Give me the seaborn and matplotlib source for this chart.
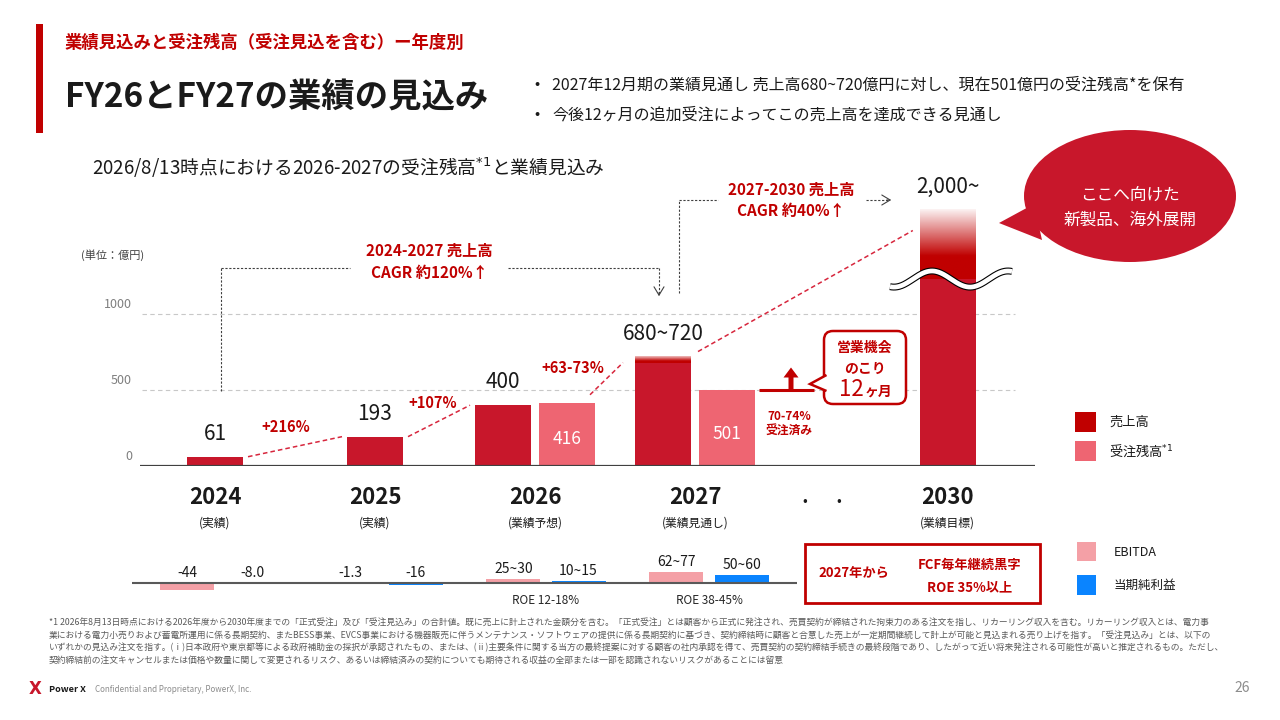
import numpy as np
import pandas as pd
import matplotlib
matplotlib.use("Agg")
import matplotlib.pyplot as plt
import seaborn as sns
from matplotlib.colors import to_rgb
from matplotlib.patches import Rectangle, Ellipse, Polygon, FancyBboxPatch, FancyArrow

# ---- chart values ----
years = ["2024", "2025", "2026", "2027", "2030"]
year_notes = ["(実績)", "(実績)", "(業績予想)", "(業績見通し)", "(業績目標)"]
sales_low = [61, 193, 400, 680, 2000]
sales_high = [61, 193, 400, 720, 2000]
sales_labels = ["61", "193", "400", "680~720", "2,000~"]
backlog = [None, None, 416, 501, None]
growth_labels = ["+216%", "+107%", "+63-73%"]
yticks = [0, 500, 1000]

pl_years = ["2024", "2025", "2026", "2027"]
ebitda_low = [-44, -1.3, 25, 62]
ebitda_high = [-44, -1.3, 30, 77]
ebitda_labels = ["-44", "-1.3", "25~30", "62~77"]
net_low = [-8.0, -16, 10, 50]
net_high = [-8.0, -16, 15, 60]
net_labels = ["-8.0", "-16", "10~15", "50~60"]
roe_labels = ["", "", "ROE 12-18%", "ROE 38-45%"]

footnote_lines = [
    "*1 2026年8月13日時点における2026年度から2030年度までの「正式受注」及び「受注見込み」の合計値。既に売上に計上された金額分を含む。「正式受注」とは顧客から正式に発注され、売買契約が締結された拘束力のある注文を指し、リカーリング収入を含む。リカーリング収入とは、電力事",
    "業における電力小売りおよび蓄電所運用に係る長期契約、またBESS事業、EVCS事業における機器販売に伴うメンテナンス・ソフトウェアの提供に係る長期契約に基づき、契約締結時に顧客と合意した売上が一定期間継続して計上が可能と見込まれる売り上げを指す。「受注見込み」とは、以下の",
    "いずれかの見込み注文を指す。(ⅰ)日本政府や東京都等による政府補助金の採択が承認されたもの、または、(ⅱ)主要条件に関する当方の最終提案に対する顧客の社内承認を得て、売買契約の契約締結手続きの最終段階であり、したがって近い将来発注される可能性が高いと推定されるもの。ただし、",
    "契約締結前の注文キャンセルまたは価格や数量に関して変更されるリスク、あるいは締結済みの契約についても期待される収益の全部または一部を認識されないリスクがあることには留意",
]

sns.set_theme(style="white")
plt.rcParams["font.family"] = ["Noto Sans CJK JP", "DejaVu Sans"]
plt.rcParams["axes.unicode_minus"] = False

W, H = 1280, 720
RED = "#C8172B"
DARK_RED = "#C00000"
PINK = "#EE6572"
LIGHT_PINK = "#F4A0A6"
BLUE = "#0A84FF"
INK = "#1A1A1A"

fig = plt.figure(figsize=(W / 100, H / 100), dpi=100)
fig.patch.set_facecolor("white")


def box(l, t, r, b):
    return [l / W, 1 - b / H, (r - l) / W, (b - t) / H]


# ---------------- main chart ----------------
PPU = 0.152            # pixels per 億円
ax = fig.add_axes(box(140, 100, 1035, 466))


def x_of(px):
    return (px - 215) / 160


slot = [0, 1, 2, 3, 4.58]
bar_w = 0.35
pair = 0.2
break_at = 1230        # 2030 bar is cut by a wavy break
cap_top = 1684

rows = []
sales_x = []
for i, yr in enumerate(years):
    sx = slot[i] - pair if backlog[i] is not None else slot[i]
    sales_x.append(sx)
    rows.append({"pos": sx, "value": min(sales_low[i], break_at), "series": "売上高"})
    if backlog[i] is not None:
        rows.append({"pos": slot[i] + pair, "value": backlog[i], "series": "受注残高"})
bars = pd.DataFrame(rows)

sns.barplot(data=bars, x="pos", y="value", hue="series", hue_order=["売上高", "受注残高"],
            palette={"売上高": RED, "受注残高": PINK}, native_scale=True, dodge=False,
            width=bar_w / (2 * pair), saturation=1, errorbar=None, legend=False,
            linewidth=0, ax=ax)


def fade_cap(xc, y0, y1, stops, alphas):
    ys = np.linspace(y0, y1, 256)
    img = np.ones((256, 1, 4))
    img[:, 0, :3] = to_rgb(DARK_RED)
    img[:, 0, 3] = np.interp(ys, stops, alphas)
    ax.imshow(img, extent=(xc - bar_w / 2, xc + bar_w / 2, y0, y1), origin="lower",
              aspect="auto", interpolation="bilinear", zorder=3)


# 2027: range 680~720 drawn as a soft cap
lo, hi = sales_low[3], sales_high[3]
fade_cap(sales_x[3], lo, hi, [lo, lo + 0.3 * (hi - lo), hi], [1, 1, 0.25])
# 2030: faded top above the break
fade_cap(sales_x[4], break_at, cap_top, [break_at, break_at + 150, cap_top], [1, 1, 0.05])

wx = np.linspace(x_of(890), x_of(1012), 200)
wy = break_at + 53 * np.cos(2 * np.pi * (wx - x_of(932)) / (76 / 160))
ax.plot(wx, wy, color="black", lw=5.0, solid_capstyle="butt", zorder=5)
ax.plot(wx, wy, color="white", lw=3.4, solid_capstyle="butt", zorder=6)

ax.set_xlim(x_of(140), x_of(1035))
ax.set_ylim(0, (466 - 100) / PPU)
ax.set(xlabel="", ylabel="", xticks=[], yticks=[])
for s in ax.spines.values():
    s.set_visible(False)
ax.axhline(0, color="#404040", lw=1.6, zorder=4)
ax.hlines(yticks[1:], x_of(142), x_of(1015), colors="#C8C8C8",
          linestyles=(0, (4, 3)), lw=0.8, zorder=0)
for v in yticks:
    ax.annotate(str(v), xy=(0, v), xycoords=("axes fraction", "data"), xytext=(-8, 9),
                textcoords="offset pixels", ha="right", va="center", fontsize=9,
                color="#7F7F7F")

for i in range(len(years)):
    top = min(sales_high[i], cap_top)
    ax.annotate(sales_labels[i], xy=(sales_x[i], top), xytext=(0, 23),
                textcoords="offset pixels", ha="center", va="center", fontsize=15,
                color=INK)
    ax.annotate(years[i], xy=(slot[i], 0), xytext=(0, -31), textcoords="offset pixels",
                ha="center", va="center", fontsize=16, fontweight="bold", color=INK)
    ax.annotate(year_notes[i], xy=(slot[i], 0), xytext=(0, -57), textcoords="offset pixels",
                ha="center", va="center", fontsize=8.5, color=INK)
    if backlog[i] is not None:
        ax.text(slot[i] + pair, backlog[i] * 0.42, str(backlog[i]), ha="center",
                va="center", fontsize=12.5, color="white", zorder=5)

# growth lines between bar tops
half = bar_w / 2
g = 5 / 160
dash = dict(color="#D7263D", lw=1.1, ls=(0, (3, 2)), zorder=2)
ax.plot([sales_x[0] + half + g, sales_x[1] - half - g], [sales_low[0], sales_low[1]], **dash)
ax.plot([sales_x[1] + half + g, sales_x[2] - half - g], [sales_low[1], sales_low[2]], **dash)
ax.plot([slot[2] + pair + half - g, sales_x[3] - half - 2.4 * g],
        [backlog[2] + 8 / PPU, sales_low[3]], **dash)
ax.plot([sales_x[3] + half + 1.4 * g, sales_x[4] - half - 1.4 * g],
        [sales_high[3] + 5 / PPU, 0.92 * cap_top], **dash)

# remaining-order marker at the 2027 backlog level
ax.plot([x_of(759), x_of(814)], [backlog[3], backlog[3]], color=DARK_RED, lw=2.2,
        solid_capstyle="butt", zorder=4)

# ---------------- P/L mini chart ----------------
ax2 = fig.add_axes(box(132, 540, 797, 612))
pl = pd.DataFrame({
    "year": pl_years * 2,
    "metric": ["EBITDA"] * 4 + ["当期純利益"] * 4,
    "value": [(a + b) / 2 for a, b in zip(ebitda_low, ebitda_high)]
             + [(a + b) / 2 for a, b in zip(net_low, net_high)],
})
sns.barplot(data=pl, x="year", y="value", hue="metric", hue_order=["EBITDA", "当期純利益"],
            palette={"EBITDA": LIGHT_PINK, "当期純利益": BLUE}, width=0.8, gap=0.17,
            saturation=1, errorbar=None, legend=False, linewidth=0, ax=ax2)
ax2.set_xlim((132 - 220) / 163, (797 - 220) / 163)
ax2.set_ylim(-(612 - 583) / PPU, (583 - 540) / PPU)
ax2.set(xlabel="", ylabel="", xticks=[], yticks=[])
for s in ax2.spines.values():
    s.set_visible(False)
ax2.axhline(0, color="#595959", lw=1.5, zorder=4)
for i in range(len(pl_years)):
    for dx, labels, lo_v, hi_v in [(-0.2, ebitda_labels, ebitda_low, ebitda_high),
                                   (0.2, net_labels, net_low, net_high)]:
        top = max((lo_v[i] + hi_v[i]) / 2, 0)
        ax2.annotate(labels[i], xy=(i + dx, top), xytext=(0, 3), textcoords="offset pixels",
                     ha="center", va="bottom", fontsize=10, color=INK)
    if roe_labels[i]:
        ax2.annotate(roe_labels[i], xy=(i, 0), xytext=(0, -17), textcoords="offset pixels",
                     ha="center", va="center", fontsize=8.5, color="#262626")

# ---------------- overlay in pixel coordinates ----------------
ov = fig.add_axes([0, 0, 1, 1], zorder=10)
ov.set_xlim(0, W)
ov.set_ylim(H, 0)
ov.axis("off")


def t(x, y, s, **kw):
    kw.setdefault("ha", "center")
    kw.setdefault("va", "center")
    kw.setdefault("color", INK)
    ov.text(x, y, s, **kw)


# header
ov.add_patch(Rectangle((36, 24), 7, 109, fc=DARK_RED, ec="none"))
t(65, 43, "業績見込みと受注残高（受注見込を含む）ー年度別", ha="left", fontsize=12.5,
  fontweight="bold", color=DARK_RED)
t(65, 97, "FY26とFY27の業績の見込み", ha="left", fontsize=24, fontweight="bold")
t(537, 85, "•", fontsize=11)
t(537, 115, "•", fontsize=11)
t(552, 85, "2027年12月期の業績見通し 売上高680~720億円に対し、現在501億円の受注残高*を保有",
  ha="left", fontsize=11.5)
t(552, 115, "今後12ヶ月の追加受注によってこの売上高を達成できる見通し", ha="left", fontsize=11.5)
t(92, 168, "2026/8/13時点における2026-2027の受注残高$^{*1}$と業績見込み", ha="left",
  fontsize=13.5)
t(81, 255, "(単位：億円)", ha="left", fontsize=8, color="#404040")

# CAGR brackets
br = dict(color="#404040", lw=0.8, ls=(0, (2, 1.5)))
ov.plot([221, 221], [391, 268], **br)
ov.plot([221, 350], [268, 268], **br)
ov.plot([508, 659], [268, 268], **br)
ov.plot([659, 659], [268, 294], **br)
ov.annotate("", xy=(659, 299), xytext=(659, 290),
            arrowprops=dict(arrowstyle="->,head_length=0.5,head_width=0.3", color="#404040", lw=0.8))
t(429, 251, "2024-2027 売上高", fontsize=11, fontweight="bold", color=DARK_RED)
t(429, 273, "CAGR 約120%↑", fontsize=11, fontweight="bold", color=DARK_RED)

ov.plot([679, 679], [293, 200], **br)
ov.plot([679, 718], [200, 200], **br)
ov.plot([866, 888], [200, 200], **br)
ov.annotate("", xy=(894, 200), xytext=(884, 200),
            arrowprops=dict(arrowstyle="->,head_length=0.5,head_width=0.3", color="#404040", lw=0.8))
t(791, 190, "2027-2030 売上高", fontsize=11, fontweight="bold", color=DARK_RED)
t(791, 211, "CAGR 約40%↑", fontsize=11, fontweight="bold", color=DARK_RED)

# growth labels
for (gx, gy), s in zip([(286, 427), (433, 403), (573, 368)], growth_labels):
    t(gx, gy, s, fontsize=10.5, fontweight="bold", color=DARK_RED)

# 2027 remaining opportunity
ov.add_patch(FancyArrow(791, 389.5, 0, -22, width=5, head_width=15, head_length=10,
                        length_includes_head=True, fc=DARK_RED, ec="none"))
t(789, 417, "70-74%", fontsize=8.5, fontweight="bold", color=DARK_RED)
t(789, 431, "受注済み", fontsize=8.5, fontweight="bold", color=DARK_RED)
ov.add_patch(FancyBboxPatch((824, 331), 82, 73, boxstyle="round,pad=0,rounding_size=9",
                            ec=DARK_RED, fc="white", lw=1.8, zorder=2))
ov.add_patch(Polygon([(826.5, 375), (810, 384), (826.5, 391)], closed=False, fc="white",
                     ec=DARK_RED, lw=1.8, zorder=3))
t(865, 348, "営業機会", fontsize=10, fontweight="bold", color=DARK_RED, zorder=4)
t(865, 369, "のこり", fontsize=10, fontweight="bold", color=DARK_RED, zorder=4)
t(851, 390, "12", fontsize=16, color=DARK_RED, zorder=4)
t(879, 392, "ヶ月", fontsize=10, fontweight="bold", color=DARK_RED, zorder=4)

# speech bubble
ov.add_patch(Ellipse((1130, 196), 212, 132, fc=RED, ec="none"))
ov.add_patch(Polygon([(999, 223), (1034, 204), (1042, 240)], fc=RED, ec="none"))
t(1130, 195, "ここへ向けた", fontsize=12, color="white")
t(1130, 220, "新製品、海外展開", fontsize=12, color="white")

# ellipsis between 2027 and 2030
t(805, 501, "•", fontsize=10)
t(839, 501, "•", fontsize=10)

# main legend
ov.add_patch(Rectangle((1075, 412), 21, 20, fc=DARK_RED, ec="none"))
ov.add_patch(Rectangle((1075, 441), 21, 20, fc=PINK, ec="none"))
t(1109, 422, "売上高", ha="left", fontsize=9.5)
t(1109, 451, "受注残高$^{*1}$", ha="left", fontsize=9.5)

# P/L box and legend
ov.add_patch(Rectangle((805, 544), 235, 59, fill=False, ec=DARK_RED, lw=2))
t(854, 573, "2027年から", fontsize=9.5, fontweight="bold", color=DARK_RED)
t(970, 565, "FCF毎年継続黒字", fontsize=9.5, fontweight="bold", color=DARK_RED)
t(970, 587, "ROE 35%以上", fontsize=9.5, fontweight="bold", color=DARK_RED)
ov.add_patch(Rectangle((1077, 542), 19, 19, fc=LIGHT_PINK, ec="none"))
ov.add_patch(Rectangle((1077, 575), 19, 20, fc=BLUE, ec="none"))
t(1114, 552, "EBITDA", ha="left", fontsize=9)
t(1114, 585, "当期純利益", ha="left", fontsize=9)

# footnote and footer
for k, line in enumerate(footnote_lines):
    t(49, 623 + k * 12.5, line, ha="left", fontsize=6.3, color="#595959")
t(35, 689, "X", fontsize=12, fontweight="bold", color=RED, family="DejaVu Sans")
t(49, 689, "Power X", ha="left", fontsize=6.6, fontweight="bold")
t(95, 689, "Confidential and Proprietary, PowerX, Inc.", ha="left", fontsize=5.8,
  color="#8C8C8C")
t(1250, 688, "26", ha="right", fontsize=10, color="#8C8C8C")

fig.savefig("out.png", dpi=100, facecolor="white")
